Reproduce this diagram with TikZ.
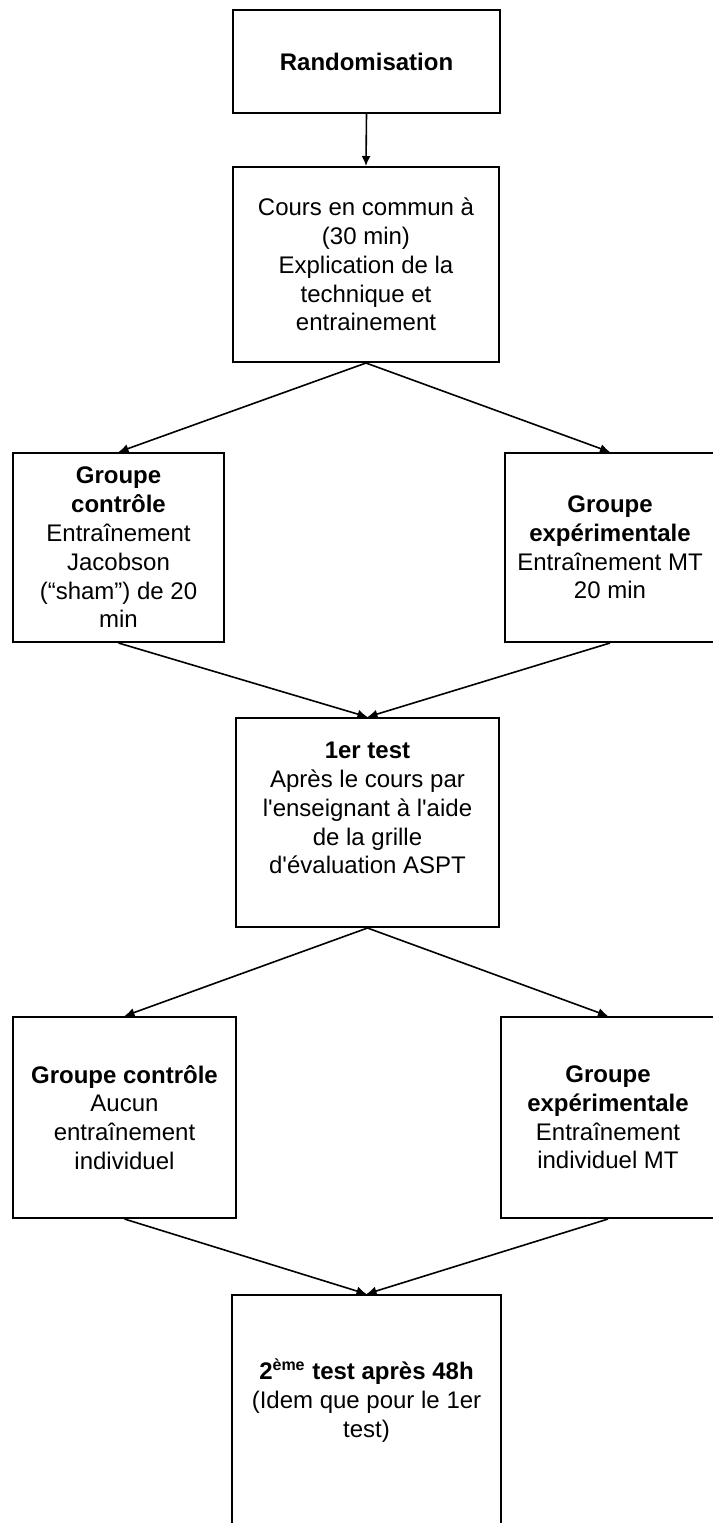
\documentclass[tikz,border=0pt]{standalone}
\usepackage{fontspec}
\setmainfont{Liberation Sans}
\usetikzlibrary{arrows.meta}
\tikzset{
  box/.style={draw, line width=1pt, inner sep=0pt, align=center,
    font=\fontsize{12pt}{14.4pt}\selectfont},
  arr/.style={line width=0.8pt, -{Latex[length=5pt,width=4.5pt]}}
}
\begin{document}
\begin{tikzpicture}[x=0.5pt,y=-0.5pt]
\useasboundingbox (0,0) rectangle (713,1523);
\clip (0,0) rectangle (713,1523);
\node[box, minimum width=133.5pt, minimum height=51.5pt] (r) at (366.5,61.5) {\textbf{Randomisation}};
\node[box, minimum width=133pt, minimum height=97.5pt] (c) at (366,264.5)
  {Cours en commun à\\(30 min)\\Explication de la\\technique et\\entrainement};
\node[box, minimum width=105.5pt, minimum height=94.5pt] (a) at (118.5,547.5)
  {\textbf{Groupe}\\\textbf{contrôle}\\Entraînement\\Jacobson\\(“sham”) de 20\\min};
\node[box, minimum width=105pt, minimum height=94.5pt] (b) at (610,547.5)
  {\textbf{Groupe}\\\textbf{expérimentale}\\Entraînement MT\\20 min};
\node[box, minimum width=131.5pt, minimum height=104.5pt] (t) at (367.5,822.5)
  {\textbf{1er test}\\Après le cours par\\l\textquotesingle enseignant à l\textquotesingle aide\\de la grille\\d\textquotesingle évaluation ASPT\\\mbox{}};
\node[box, minimum width=111.5pt, minimum height=100.5pt] (d) at (124.5,1117.5)
  {\textbf{Groupe contrôle}\\Aucun\\entraînement\\individuel};
\node[box, minimum width=107pt, minimum height=100.5pt] (e) at (608,1117.5)
  {\textbf{Groupe}\\\textbf{expérimentale}\\Entraînement\\individuel MT};
\node[box, minimum width=134.5pt, minimum height=117.5pt] (f) at (366.5,1412.5)
  {\textbf{2\textsuperscript{ème} test après 48h}\\(Idem que pour le 1er\\test)\\\mbox{}};
\draw[arr] (r.south) -- (c.north);
\draw[arr] (c.south) -- (a.north);
\draw[arr] (c.south) -- (b.north);
\draw[arr] (a.south) -- (t.north);
\draw[arr] (b.south) -- (t.north);
\draw[arr] (t.south) -- (d.north);
\draw[arr] (t.south) -- (e.north);
\draw[arr] (d.south) -- (f.north);
\draw[arr] (e.south) -- (f.north);
\end{tikzpicture}
\end{document}
